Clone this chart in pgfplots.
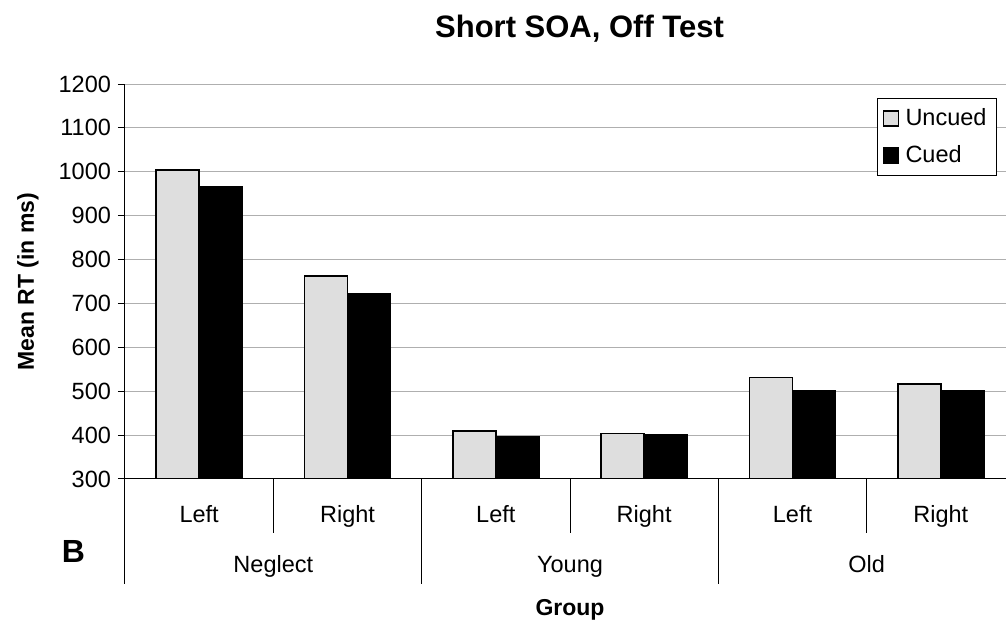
\documentclass[border=0pt]{standalone}
\usepackage{fontspec}
\setmainfont{Liberation Sans}
\usepackage{pgfplots}
\pgfplotsset{compat=1.18}
\definecolor{uncued}{RGB}{222,222,222}
\definecolor{gridc}{RGB}{175,175,175}
\begin{document}
\begin{tikzpicture}
\begin{axis}[
  name=ax, at={(0,0)}, anchor=south west,
  scale only axis, width=445pt, height=197.5pt,
  xmin=-0.5, xmax=5.5, ymin=300, ymax=1200,
  ytick={300,400,...,1200},
  xtick={0,...,5}, xticklabels={Left,Right,Left,Right,Left,Right},
  axis lines=left, axis line style={-, line width=0.5pt, black},
  tick align=outside, major tick length=3.5pt,
  xtick style={draw=none}, ytick style={black, line width=0.5pt},
  ymajorgrids, major grid style={gridc, line width=0.5pt},
  /pgf/number format/assume math mode=true,
  /pgf/number format/1000 sep={},
  tick label style={font=\fontsize{11.75}{14}\selectfont},
  xticklabel style={anchor=base, yshift=-18.5pt},
  ybar=0pt, bar width=0.29,
  title={Short SOA, Off Test},
  title style={font=\bfseries\fontsize{15.5}{18}\selectfont, at={(axis description cs:0.5107,1.0861)}, anchor=base},
  ylabel={Mean RT (in ms)},
  ylabel style={font=\bfseries\fontsize{11.5}{14}\selectfont, at={(axis description cs:-0.109,0.5)}, anchor=center},
  xlabel={Group},
  xlabel style={font=\bfseries\fontsize{11.5}{14}\selectfont, at={(axis description cs:0.5,-0.3468)}, anchor=base},
  legend style={at={(0.9798,0.9646)}, anchor=north east, draw=black, line width=0.5pt,
    font=\fontsize{11.75}{14}\selectfont, inner xsep=3pt, inner ysep=3pt, row sep=4.5pt},
  legend cell align=left,
  legend image code/.code={\draw[#1, line width=0.6pt] (0.5pt,-3.75pt) rectangle (8pt,3.75pt); \path (9pt,0);},
]
\addplot[fill=uncued, draw=black, line width=0.75pt] coordinates {(0,1004) (1,763) (2,409) (3,404) (4,531) (5,516)};
\addplot[fill=black, draw=black, line width=0.75pt] coordinates {(0,966) (1,723) (2,397) (3,401) (4,500) (5,500)};
\legend{Uncued,Cued}
\end{axis}
% category separators
\foreach \x in {0,148.333,296.667,445} \draw[line width=0.5pt] (\x pt,0) -- (\x pt,-52.5pt);
\foreach \x in {74.167,222.5,370.833} \draw[line width=0.5pt] (\x pt,0) -- (\x pt,-27pt);
\node[anchor=base, font=\fontsize{11.75}{14}\selectfont] at (74.167pt,-47pt) {Neglect};
\node[anchor=base, font=\fontsize{11.75}{14}\selectfont] at (222.5pt,-47pt) {Young};
\node[anchor=base, font=\fontsize{11.75}{14}\selectfont] at (370.833pt,-47pt) {Old};
\node[anchor=center, font=\bfseries\fontsize{16}{19}\selectfont] at (-25.75pt,-36.35pt) {B};
\pgfresetboundingbox
\path[use as bounding box] (-62.5pt,-72.5pt) rectangle (440.5pt,239.5pt);
\end{tikzpicture}
\end{document}
